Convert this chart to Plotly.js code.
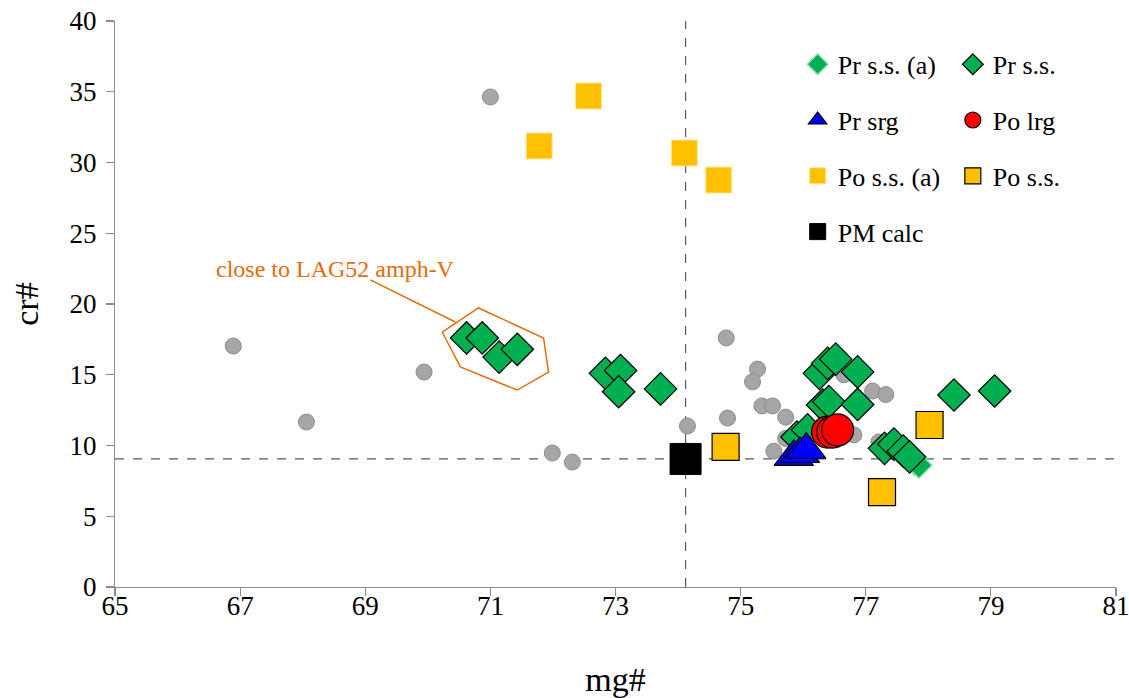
<!DOCTYPE html>
<html>
<head>
<meta charset="utf-8">
<script src="https://cdn.plot.ly/plotly-3.0.1.min.js"></script>
<style>html,body{margin:0;padding:0;background:#fff;}#chart{width:1129px;height:698px;}</style>
</head>
<body>
<div id="chart"></div>
<script>
// ---- data (mg#, cr#) ----
const grayX = [71.0, 66.89, 68.06, 69.94, 71.99, 72.31, 74.15, 74.79, 74.77, 75.27, 75.19, 75.34, 75.51, 75.72, 75.72, 75.53, 76.65, 77.11, 77.32, 76.81, 77.21];
const grayY = [34.63, 17.03, 11.66, 15.19, 9.47, 8.83, 11.38, 11.94, 17.6, 15.4, 14.5, 12.8, 12.8, 12.0, 10.5, 9.6, 15.0, 13.85, 13.6, 10.75, 10.25];

const prSSaX = [77.78, 77.85];
const prSSaY = [8.8, 8.6];

const prSSX = [70.62, 70.87, 71.14, 71.43, 72.84, 73.08, 73.05, 73.72, 76.26, 76.39, 76.52, 76.87, 76.31, 76.41, 76.87, 75.9, 76.07, 77.3, 77.45, 77.6, 77.7, 78.41, 79.06];
const prSSY = [17.6, 17.6, 16.25, 16.8, 15.1, 15.3, 13.8, 14.0, 15.1, 15.8, 16.1, 15.2, 12.86, 13.1, 12.9, 10.6, 11.1, 9.8, 10.1, 9.6, 9.2, 13.57, 13.85];

const prSrgX = [75.85, 75.95, 76.05];
const prSrgY = [9.2, 9.4, 9.7];

const poLrgX = [76.39, 76.47, 76.55];
const poLrgY = [10.95, 10.95, 11.1];

const poSSaX = [72.57, 71.78, 74.1, 74.65];
const poSSaY = [34.7, 31.17, 30.67, 28.76];

const poSSX = [74.76, 78.02, 77.26];
const poSSY = [9.9, 11.45, 6.7];

const pmX = [74.12];
const pmY = [9.05];

// annotation geometry
const hullX = [70.23, 70.81, 71.85, 71.93, 71.43, 70.52, 70.23];
const hullY = [18.02, 19.72, 17.6, 15.19, 13.92, 15.55, 18.02];
const leaderX = [69.08, 70.44];
const leaderY = [21.7, 18.73];
const noteText = "close to LAG52 amph-V";
const noteX = 68.52, noteY = 22.5;

const xTicks = [65, 67, 69, 71, 73, 75, 77, 79, 81];
const yTicks = [0, 5, 10, 15, 20, 25, 30, 35, 40];

const FONT = "Liberation Serif, Times New Roman, serif";
const GREEN = "#00b050", YELLOW = "#ffc000", ORANGE = "#e46c0a";

const traces = [
  {x: grayX, y: grayY, type: "scatter", mode: "markers", showlegend: false, hoverinfo: "skip",
   marker: {symbol: "circle", size: 16, color: "#a6a6a6", line: {color: "#8c8c8c", width: 1}}},
  {x: hullX, y: hullY, type: "scatter", mode: "lines", showlegend: false, hoverinfo: "skip",
   line: {color: ORANGE, width: 1.5}},
  {x: leaderX, y: leaderY, type: "scatter", mode: "lines", showlegend: false, hoverinfo: "skip",
   line: {color: ORANGE, width: 1.5}},
  {x: prSSaX, y: prSSaY, name: "Pr s.s. (a)", type: "scatter", mode: "markers", legend: "legend", legendgroup: "a1",
   marker: {symbol: "diamond", size: 20, color: GREEN, line: {color: "#8fe0b0", width: 1.5}}},
  {x: prSSX, y: prSSY, name: "Pr s.s.", type: "scatter", mode: "markers", legend: "legend2", legendgroup: "b1",
   marker: {symbol: "diamond", size: 25, color: GREEN, line: {color: "#000", width: 1.2}}},
  {x: prSrgX, y: prSrgY, name: "Pr srg", type: "scatter", mode: "markers", legend: "legend", legendgroup: "a2",
   marker: {symbol: "triangle-up", size: 34, color: "#0000ff", line: {color: "#000", width: 1.2}}},
  {x: poLrgX, y: poLrgY, name: "Po lrg", type: "scatter", mode: "markers", legend: "legend2", legendgroup: "b2",
   marker: {symbol: "circle", size: 32, color: "#ff0000", line: {color: "#000", width: 1.2}}},
  {x: poSSaX, y: poSSaY, name: "Po s.s. (a)", type: "scatter", mode: "markers", legend: "legend", legendgroup: "a3",
   marker: {symbol: "square", size: 26, color: YELLOW, line: {color: "#ffe699", width: 1}}},
  {x: poSSX, y: poSSY, name: "Po s.s.", type: "scatter", mode: "markers", legend: "legend2", legendgroup: "b3",
   marker: {symbol: "square", size: 27, color: YELLOW, line: {color: "#000", width: 1.2}}},
  {x: pmX, y: pmY, name: "PM calc", type: "scatter", mode: "markers", legend: "legend", legendgroup: "a4",
   marker: {symbol: "square", size: 31, color: "#000", line: {color: "#000", width: 1}}}
];

const legendCommon = {
  font: {family: FONT, size: 26, color: "#000"},
  bgcolor: "rgba(0,0,0,0)", borderwidth: 0,
  tracegroupgap: 19, xanchor: "left", yanchor: "top", orientation: "v", itemclick: false
};

const layout = {
  width: 1129, height: 698,
  margin: {l: 115, r: 13, t: 21, b: 111},
  paper_bgcolor: "#fff", plot_bgcolor: "#fff",
  font: {family: FONT, size: 27, color: "#000"},
  xaxis: {
    range: [65, 81], tickvals: xTicks, ticktext: xTicks.map(String),
    showgrid: false, zeroline: false, showline: true, linecolor: "#8c8c8c", linewidth: 1.2,
    ticks: "outside", ticklen: 8, tickcolor: "#8c8c8c", tickwidth: 1.2,
    ticklabelstandoff: -14, ticklabeloverflow: "allow",
    tickfont: {family: FONT, size: 27, color: "#000"},
    title: {text: "mg#", font: {family: FONT, size: 34, color: "#000"}, standoff: 54}
  },
  yaxis: {
    range: [0, 40], tickvals: yTicks, ticktext: yTicks.map(String),
    showgrid: false, zeroline: false, showline: true, linecolor: "#8c8c8c", linewidth: 1.2,
    ticks: "outside", ticklen: 8, tickcolor: "#8c8c8c", tickwidth: 1.2,
    ticklabelstandoff: 4, ticklabeloverflow: "allow",
    tickfont: {family: FONT, size: 27, color: "#000"},
    title: {text: "cr#", font: {family: FONT, size: 34, color: "#000"}, standoff: 20}
  },
  shapes: [
    {type: "line", xref: "x", yref: "paper", x0: pmX[0], x1: pmX[0], y0: 0, y1: 1,
     line: {color: "#595959", width: 1.2, dash: "dash"}, layer: "below"},
    {type: "line", xref: "paper", yref: "y", x0: 0, x1: 1, y0: pmY[0], y1: pmY[0],
     line: {color: "#595959", width: 1.2, dash: "dash"}, layer: "below"}
  ],
  annotations: [
    {x: noteX, y: noteY, xref: "x", yref: "y", text: noteText, showarrow: false,
     font: {family: FONT, size: 24, color: ORANGE}}
  ],
  legend: Object.assign({x: 0.682, y: 0.965}, legendCommon),
  legend2: Object.assign({x: 0.837, y: 0.965}, legendCommon),
  showlegend: true
};

Plotly.newPlot("chart", traces, layout, {displayModeBar: false, staticPlot: true});
</script>
</body>
</html>
